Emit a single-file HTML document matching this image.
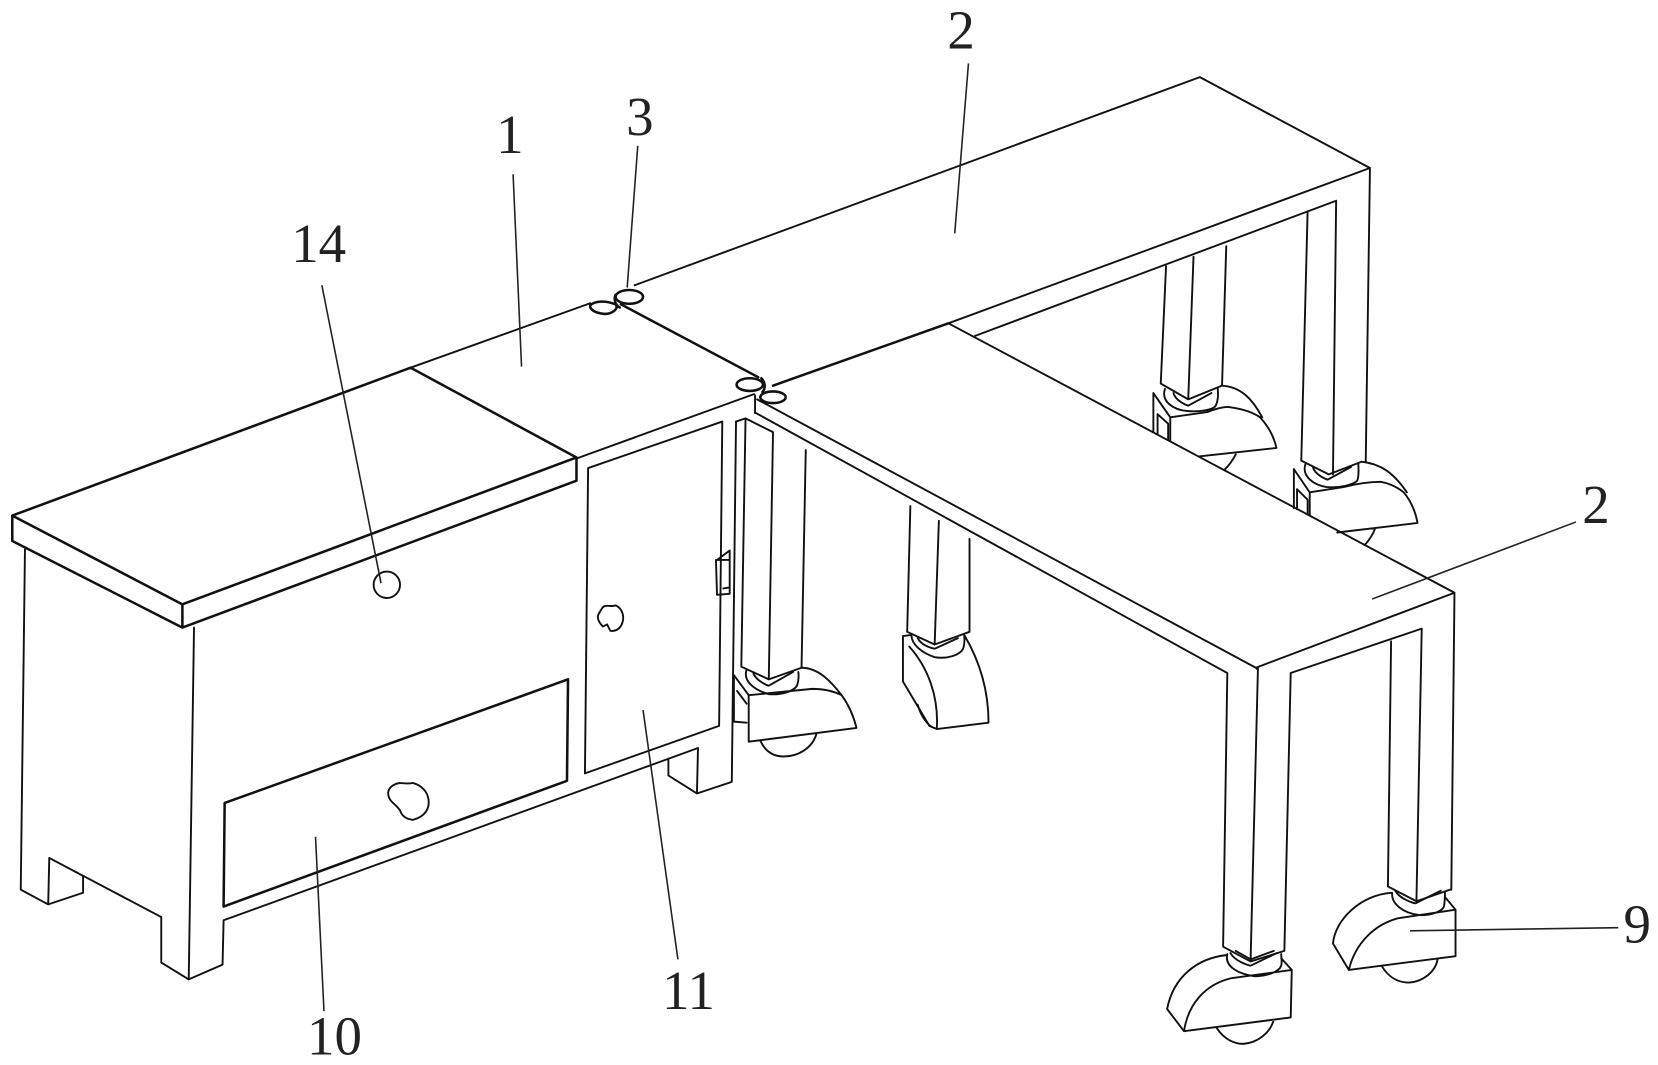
<!DOCTYPE html>
<html><head><meta charset="utf-8"><style>
html,body{margin:0;padding:0;background:#fff;width:1658px;height:1065px;overflow:hidden}
svg{display:block}
.t path,.t line,.t ellipse,.t circle,.t polyline,.t polygon{fill:none;stroke:#111;stroke-width:1.8;stroke-linejoin:round;stroke-linecap:round}
.k path,.k line,.k ellipse,.k polyline{fill:none;stroke:#111;stroke-width:2.4;stroke-linejoin:round;stroke-linecap:round}
.l line{stroke:#222;stroke-width:1.5}
text{font-family:"Liberation Serif",serif;font-size:52px;fill:#222;text-anchor:middle}
</style></head><body>
<svg width="1658" height="1065" viewBox="0 0 1568 1008" xmlns="http://www.w3.org/2000/svg">
<rect width="1568" height="1008" fill="#fff"/>
<g class="t">
<!-- back beam -->
<path d="M388 348L558 287M600 270L1135 73L1296 159L1292 437M1296 159L897 306M1264 190L1261 449M1237 200L1231 436M1264 190L922 318"/>
<!-- leg C -->
<path d="M1103 252L1098 363L1124 378L1156 365L1160 233M1129 243L1124 378"/>
<!-- leg D bottom -->
<path d="M1231 436L1257 449L1288 437"/>
<!-- caster C -->
<path d="M1091 372V409M1107 417V395L1091 372M1095 392V411M1095 392L1105 401V416M1107 395L1142 390Q1158 384 1164 385.500Q1182 388 1192 395Q1204 408 1207.500 424L1134 432M1156 365C1174 366 1185 378 1194 395M1169 430Q1165 438 1158 445M1102 368C1098 380 1110 388 1123 389C1135 390 1148 388 1150 384C1153 378 1152 372 1152 368M1110 372C1112 380 1124 384 1124 384L1146 372"/>
<!-- caster D -->
<path d="M1224 444V481M1239 488V466L1224 444M1227 463V482M1227 463L1237 473V487M1239 466L1271 461Q1290 456 1306 456Q1318 458 1328 466Q1338 478 1341 495L1265 504M1288 437C1306 439 1318 447 1331 466M1301 500Q1298 508 1291 516M1235 439C1231 451 1243 459 1255 461C1267 462 1280 459 1284 455C1286 449 1285 444 1285 439M1242 442C1244 450 1256 454 1256 454L1278 442"/>
<!-- cabinet body -->
<path d="M23 520L19 842L45 856L78 845L78 829L46 812L45 856M46 812L152 868L152 911L178 927L210 913L211 871L660 708L659 751L632 734L632 718M659 751L692 740L696 399M183 594L178 927M545 434L713 373"/>
<!-- door -->
<path d="M556 443L683 399L680 687L553 732Z"/>
<path d="M569 576C572 571 578 575 582 573C587 575 590 581 589 587C588 593 584 598 577 597L574 591L570 593C566 589 564 585 566 581Z"/>
<path d="M678 530L690 521V562L678 563L677 530H690M684 557L690 556"/>
<!-- drawer knob -->
<path d="M372 743C378 739 384 743 390 741C398 743 404 749 405 757C406 765 402 773 390 776C384 775 380 773 378 767C374 761 368 759 367 753C366 749 368 745 372 743Z"/>
<circle cx="365.500" cy="553.500" r="12.500"/>
<!-- leg A -->
<path d="M696 399L705 396L731 409M705 396L701 631L727 643L758 632L762 426M731 409L727 643"/>
<!-- caster A -->
<path d="M708 658V702L810 689Q806 672 796 658Q784 652 768 652L708 658L694 639V683L706 684M697 654L706 666M758 632C774 632 786 645 796 658M719 701C724 712 732 716 741 716C755 716 768 708 772 695M706 634C702 646 716 654 727 657C739 658 752 654 754 648C756 642 755 638 755 636M712 636C714 644 726 649 727 649L750 636"/>
<!-- T beam -->
<path d="M897 306L1376 561L1188 632L716 378M715 391L1161 637M1188 632L1190 634M714 374V391M1221 637L1345 595M1190 632L1183 910M1161 637L1157 896L1183 910L1215 900L1221 637M1376 561L1373 842M1345 595L1340 853M1316 607L1313 839L1340 853L1372 842"/>
<!-- leg B -->
<path d="M861 479L858 598M888 493L884 610M917 510V598L884 610L858 598"/>
<!-- caster B -->
<path d="M854 602V645L879 687L886 690L935 684C935 657 928 628 912 601M860 612C878 632 888 660 886 690M854 602L862 601C862 610 872 618 884 622C896 624 908 620 911 614C913 608 912 604 912 601M868 604C872 612 884 614 884 614L906 604M868 667C871 678 876 684 881 688"/>
<!-- caster front -->
<path d="M1104 955L1120 976L1221 963L1222 918L1212 907M1222 918L1164 926C1140 932 1124 950 1120 976M1104 955C1110 924 1133 907 1160 904M1151 973C1158 984 1168 988 1176 988C1190 987 1202 977 1205 965M1161 903C1158 915 1172 922 1187 924C1198 924 1210 920 1212 914C1213 910 1212 906 1212 903M1164 902C1168 910 1182 914 1183 914L1208 902M1169 900L1183 908L1205 900"/>
<!-- caster right -->
<path d="M1261 893L1276 918L1377 905L1377 861L1367 849M1377 861L1323 869C1300 875 1282 893 1276 918M1261 893C1263 870 1288 847 1316 845M1307 914C1314 926 1324 930 1333 930C1346 929 1358 920 1360 908M1317 845C1316 856 1328 864 1342 866C1354 867 1365 862 1366 858C1367 853 1367 848 1367 844M1320 843C1324 851 1338 855 1339 855L1363 843"/>
</g>
<g class="k">
<path d="M11 488L388 348L545 433L172 572ZM11 488V512L172 594V572M172 594L545 455V433"/>
<path d="M587 288L717 357M731 365L897 306"/>
<path d="M212 760L537 643L536 739L211 858Z"/>
<ellipse cx="595" cy="281" rx="13" ry="6.500"/>
<path d="M582 279C580 284 582 289 586 291"/>
<path d="M558 289C562 285 572 284 582 288C586 292 578 298 570 297C563 296 557 293 558 289Z"/>
<ellipse cx="709" cy="364" rx="12.500" ry="6"/>
<path d="M720 358C724 362 724 368 721 371"/>
<ellipse cx="731" cy="376" rx="12" ry="5.500"/>
</g>
<g class="l">
<line x1="304" y1="270" x2="360" y2="552"/>
<line x1="485" y1="165" x2="493" y2="347"/>
<line x1="603" y1="138" x2="593" y2="272"/>
<line x1="916" y1="60" x2="903" y2="221"/>
<line x1="1491" y1="494" x2="1298" y2="567"/>
<line x1="608" y1="672" x2="641" y2="908"/>
<line x1="298" y1="792" x2="306" y2="957"/>
<line x1="1334" y1="881" x2="1531" y2="878"/>
</g>
<text x="909" y="46">2</text>
<text x="482" y="145">1</text>
<text x="605" y="128">3</text>
<text x="301" y="248">14</text>
<text x="1510" y="495">2</text>
<text x="1549" y="892">9</text>
<text x="651" y="955">11</text>
<text x="316" y="998">10</text>
</svg>
</body></html>
